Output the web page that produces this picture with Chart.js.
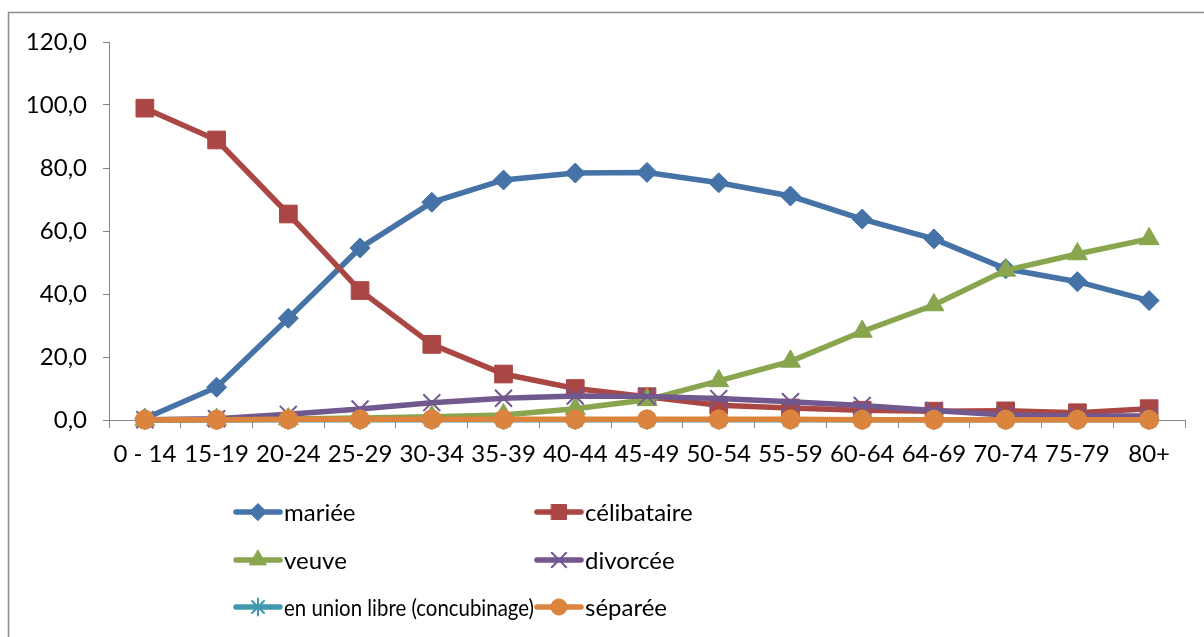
<!DOCTYPE html>
<html>
<head>
<meta charset="utf-8">
<script src="https://cdn.jsdelivr.net/npm/chart.js@4/dist/chart.umd.min.js"></script>
<style>
  html, body { margin: 0; padding: 0; background: #fff; }
  #wrap { width: 1204px; height: 637px; }
</style>
</head>
<body>
<div id="wrap"><canvas id="chart" width="1204" height="637"></canvas></div>
<script>
// age groups (x axis)
const ageGroups = ['0 - 14', '15-19', '20-24', '25-29', '30-34', '35-39', '40-44', '45-49',
  '50-54', '55-59', '60-64', '64-69', '70-74', '75-79', '80+'];

// % by marital status
const mariee      = [0.5, 10.4, 32.3, 54.6, 69.1, 76.2, 78.4, 78.6, 75.3, 71.1, 63.8, 57.5, 48.0, 43.9, 37.9];
const celibataire = [99.0, 88.9, 65.4, 41.1, 24.0, 14.6, 10.0, 7.4, 4.7, 3.8, 3.1, 2.8, 2.9, 2.3, 3.6];
const veuve       = [0.0, 0.1, 0.3, 0.6, 1.0, 1.6, 3.6, 6.4, 12.4, 18.6, 28.1, 36.5, 47.5, 52.7, 57.5];
const divorcee    = [0.1, 0.4, 1.8, 3.5, 5.5, 6.9, 7.6, 7.5, 6.8, 5.8, 4.6, 3.0, 1.6, 1.3, 1.3];
const unionLibre  = [0.1, 0.1, 0.1, 0.1, 0.1, 0.1, 0.1, 0.1, 0.1, 0.1, 0.1, 0.1, 0.1, 0.1, 0.1];
const separee     = [0.1, 0.1, 0.2, 0.2, 0.2, 0.2, 0.2, 0.2, 0.2, 0.2, 0.1, 0.1, 0.1, 0.1, 0.1];

const seriesNames = ['mariée', 'célibataire', 'veuve', 'divorcée', 'en union libre (concubinage)', 'séparée'];
const seriesData = [mariee, celibataire, veuve, divorcee, unionLibre, separee];

// excel 2007 look
const colors = ['#4572A7', '#AA4643', '#89A54E', '#71588F', '#4198AF', '#DB843D'];
const markers = ['rectRot', 'rect', 'triangle', 'crossRot', 'star', 'circle'];
const markerRadius = [10, 12.5, 11.5, 12, 10, 9.5];

const FONT = 'Lato, "Liberation Sans", sans-serif';
Chart.defaults.font.family = FONT;
Chart.defaults.font.size = 24;
Chart.defaults.color = '#000';

// white background + frame
const framePlugin = {
  id: 'frame',
  beforeDraw(chart) {
    const ctx = chart.ctx;
    ctx.save();
    ctx.fillStyle = '#fff';
    ctx.fillRect(0, 0, chart.width, chart.height);
    ctx.strokeStyle = '#8c8c8c';
    ctx.lineWidth = 1.5;
    ctx.strokeRect(8.5, 12.5, 1220, 700);
    ctx.restore();
  }
};

// legend drawn like excel: short line with marker in the middle, 2 columns
const legendPlugin = {
  id: 'excelLegend',
  afterDraw(chart) {
    const ctx = chart.ctx;
    const cols = [236, 537];
    const rows = [512, 560, 607];
    chart.data.datasets.forEach((ds, i) => {
      const x0 = cols[i % 2];
      const y = rows[Math.floor(i / 2)];
      ctx.save();
      ctx.strokeStyle = ds.borderColor;
      ctx.lineWidth = 5.5;
      ctx.lineCap = 'round';
      ctx.beginPath();
      ctx.moveTo(x0, y);
      ctx.lineTo(x0 + 44, y);
      ctx.stroke();
      ctx.fillStyle = ds.pointBackgroundColor;
      ctx.strokeStyle = ds.pointBorderColor;
      ctx.lineWidth = ds.pointBorderWidth;
      Chart.helpers.drawPoint(ctx, {
        pointStyle: ds.pointStyle,
        radius: ds.pointRadius * 0.85,
        borderWidth: ds.pointBorderWidth,
        rotation: 0
      }, x0 + 22, y);
      ctx.fillStyle = '#000';
      ctx.font = '24px ' + FONT;
      ctx.textBaseline = 'middle';
      ctx.textAlign = 'left';
      // calibri is narrower, keep the long label inside its column
      ctx.fillText(ds.label, x0 + 48, y + 1, 250);
      ctx.restore();
    });
  }
};

new Chart(document.getElementById('chart'), {
  type: 'line',
  data: {
    labels: ageGroups,
    datasets: seriesNames.map((name, i) => ({
      label: name,
      data: seriesData[i],
      borderColor: colors[i],
      backgroundColor: colors[i],
      pointBackgroundColor: colors[i],
      pointBorderColor: colors[i],
      pointStyle: markers[i],
      pointRadius: markerRadius[i],
      pointBorderWidth: (markers[i] === 'crossRot' || markers[i] === 'star') ? 2 : 1,
      borderWidth: 5.5,
      tension: 0,
      fill: false,
      clip: false,
      order: seriesNames.length - i   // last series on top, like excel
    }))
  },
  options: {
    responsive: false,
    animation: false,
    layout: { padding: { top: 42, right: 19, left: 0, bottom: 0 } },
    plugins: {
      legend: { display: false },
      tooltip: { enabled: false }
    },
    scales: {
      x: {
        offset: true,
        grid: { display: true, drawOnChartArea: false, offset: true, tickLength: 8, color: '#868686' },
        border: { color: '#868686', width: 1 },
        ticks: { color: '#000', padding: 12, maxRotation: 0, autoSkip: false },
        afterFit(scale) { scale.height = 217; }
      },
      y: {
        min: 0,
        max: 120,
        grid: { display: true, drawOnChartArea: false, tickLength: 6, color: '#868686' },
        border: { color: '#868686', width: 1 },
        ticks: {
          stepSize: 20,
          padding: 16,
          color: '#000',
          callback: v => v.toFixed(1).replace('.', ',')
        },
        afterFit(scale) { scale.width = 109; }
      }
    }
  },
  plugins: [framePlugin, legendPlugin]
});
</script>
</body>
</html>
